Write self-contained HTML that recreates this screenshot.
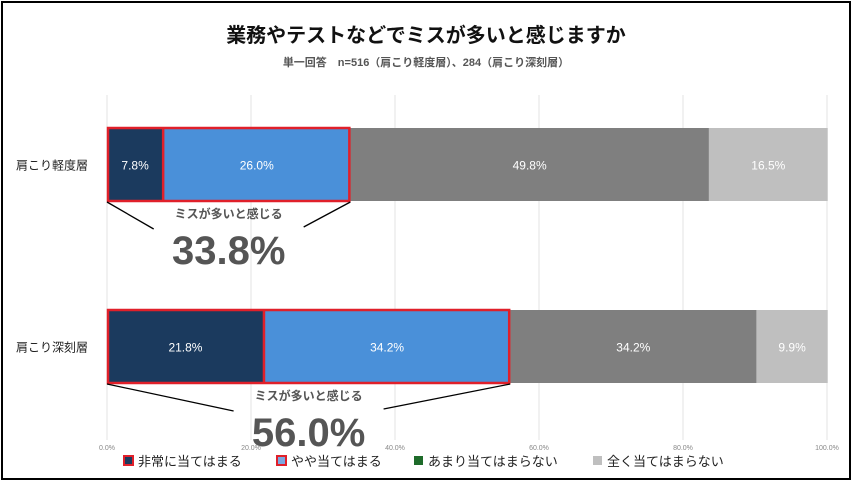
<!DOCTYPE html>
<html><head><meta charset="utf-8"><style>
body{margin:0;background:#fff;}
svg text{font-family:"Liberation Sans","Noto Sans CJK JP",sans-serif;}
</style></head><body>
<svg width="853" height="482" xmlns="http://www.w3.org/2000/svg">
<rect x="2" y="2" width="848" height="477" fill="#fff" stroke="#000" stroke-width="2"/>
<text x="426" y="42" text-anchor="middle" font-size="20" font-weight="bold" fill="#111">業務やテストなどでミスが多いと感じますか</text>
<text x="426" y="66" text-anchor="middle" font-size="11" font-weight="bold" fill="#555">単一回答　n=516（肩こり軽度層）、284（肩こり深刻層）</text>
<g id="grid"></g>
<g id="bars"></g>
<g id="callouts"></g>
<g id="ticks"></g>
<g id="legend"></g>
</svg>
<script>
const categories=["肩こり軽度層","肩こり深刻層"];
const s1=[7.8,21.8];
const s2=[26.0,34.2];
const s3=[49.8,34.2];
const s4=[16.5,9.9];
const seriesNames=["非常に当てはまる","やや当てはまる","あまり当てはまらない","全く当てはまらない"];
const tickValues=[0,20,40,60,80,100];
const tickLabels=["0.0%","20.0%","40.0%","60.0%","80.0%","100.0%"];
const NS="http://www.w3.org/2000/svg";
const x=v=>107+v*7.2;
const rowY=[128,310], bh=73;
const colors=["#1b3a5e","#4a90d9","#7f7f7f","#bfbfbf"];
function mk(t,a,p,txt){const e=document.createElementNS(NS,t);for(const k in a)e.setAttribute(k,a[k]);if(txt!==undefined)e.textContent=txt;p.appendChild(e);return e;}
const grid=document.getElementById('grid'),ticks=document.getElementById('ticks');
tickValues.forEach((v,i)=>{
 const l=mk('line',{x1:x(v),x2:x(v),y1:95,y2:440,stroke:'#e3e3e3','stroke-width':1},grid);
 
 
 const t=mk('text',{x:x(v),y:450,'text-anchor':'middle','font-size':7,fill:'#888'},ticks,tickLabels[i]);
 
 
});
const bars=document.getElementById('bars'),call=document.getElementById('callouts');
const all=[s1,s2,s3,s4];
categories.forEach((c,r)=>{
 const y=rowY[r];
 const lab=mk('text',{x:52,y:y+bh/2+5,'text-anchor':'middle','font-size':12,fill:'#222'},bars,c);
 
 
 let acc=0;
 all.forEach((s,k)=>{
  const v=s[r];
  const rc=mk('rect',{x:x(acc),y:y,width:v*7.2,height:bh,fill:colors[k]},bars);
  
  
  const tt=mk('text',{x:x(acc+v/2),y:y+bh/2+5,'text-anchor':'middle','font-size':12,fill:'#fff'},bars,v.toFixed(1)+'%');
  
  
  acc+=v;
 });
 const a=s1[r],b=s1[r]+s2[r];
 const o=mk('rect',{x:x(0)+1,y:y,width:b*7.2-2,height:bh,fill:'none',stroke:'#e0202a','stroke-width':2.5},call);
 
 
 const d=mk('line',{x1:x(a),x2:x(a),y1:y,y2:y+bh,stroke:'#e0202a','stroke-width':2.5},call);
 
 
 const cx=x(b/2);
 const l1=mk('line',{x1:x(0),y1:y+bh+1,x2:cx-75,y2:y+bh+28,stroke:'#000','stroke-width':1.3},call);
 
 
 const l2=mk('line',{x1:x(b),y1:y+bh+1,x2:cx+75,y2:y+bh+26,stroke:'#000','stroke-width':1.3},call);
 
 
 const t1=mk('text',{x:cx,y:y+bh+17,'text-anchor':'middle','font-size':12,'font-weight':'bold',fill:'#555'},call,'ミスが多いと感じる');
 
 
 const t2=mk('text',{x:cx,y:y+bh+63,'text-anchor':'middle','font-size':40,'font-weight':'bold',fill:'#555'},call,b.toFixed(1)+'%');
 
 
});
const lg=document.getElementById('legend');
const lx=[124,277,414,593];
const lc=["#1b3a5e","#7aa7e0","#1e6b2a","#bfbfbf"];
seriesNames.forEach((n,i)=>{
 const g=mk('g',{},lg);
 
 
 mk('rect',{x:lx[i],y:456,width:9,height:9,fill:lc[i],stroke:i<2?'#e0202a':'none','stroke-width':2},g);
 mk('text',{x:lx[i]+14,y:466,'font-size':13,fill:'#222'},g,n);
});
</script>
</body></html>
